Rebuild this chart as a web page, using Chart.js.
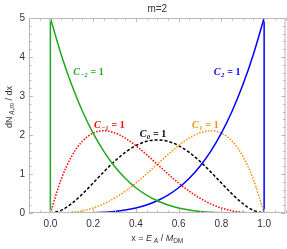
<!DOCTYPE html>
<html><head><meta charset="utf-8">
<script src="https://cdn.jsdelivr.net/npm/chart.js@4/dist/chart.umd.min.js"></script>
<style>html,body{margin:0;padding:0;background:#fff}#w{width:287px;height:249px}</style>
</head><body><div id="w"><canvas id="c" width="287" height="249"></canvas></div>
<script>
const xs = [0,0.05,0.1,0.15,0.2,0.25,0.3,0.35,0.4,0.45,0.5,0.55,0.6,0.65,0.7,0.75,0.8,0.85,0.9,0.95,1];
const cMinus2 = [5.000,4.073,3.281,2.610,2.048,1.582,1.201,0.893,0.648,0.458,0.313,0.205,0.128,0.075,0.041,0.020,0.008,0.003,0.0005,0.0000,0];
const cPlus2  = [0,0.0000,0.0005,0.003,0.008,0.020,0.041,0.075,0.128,0.205,0.313,0.458,0.648,0.893,1.201,1.582,2.048,2.610,3.281,4.073,5.000];
const cMinus1 = [0,0.857,1.458,1.842,2.048,2.109,2.058,1.922,1.728,1.497,1.250,1.002,0.768,0.557,0.378,0.234,0.128,0.057,0.018,0.002,0];
const cPlus1  = [0,0.002,0.018,0.057,0.128,0.234,0.378,0.557,0.768,1.002,1.250,1.497,1.728,1.922,2.058,2.109,2.048,1.842,1.458,0.857,0];
const cZero   = [0,0.068,0.243,0.488,0.768,1.055,1.323,1.553,1.728,1.838,1.875,1.838,1.728,1.553,1.323,1.055,0.768,0.488,0.243,0.068,0];
const edgeMinus2 = {x:[0,0], y:[0,5]};
const edgePlus2 = {x:[1,1], y:[0,5]};
const xTicks = [0,0.2,0.4,0.6,0.8,1.0];
const xTickLabels = ['0.0','0.2','0.4','0.6','0.8','1.0'];
const yTicks = [0,1,2,3,4,5];
const yTickLabels = ['0','1','2','3','4','5'];
const title = 'm=2';
const labels = [
  {c:'#1fa81f', x:0.178, y:3.63, sub:'\u22122'},
  {c:'#0000ff', x:0.827, y:3.63, sub:'2'},
  {c:'#ff0000', x:0.276, y:2.26, sub:'\u22121'},
  {c:'#000000', x:0.48,  y:2.05, sub:'0'},
  {c:'#ff8c00', x:0.725, y:2.26, sub:'1'}
];

const pts = (ys) => xs.map((x,i)=>({x:x,y:ys[i]}));
const edge = (e) => e.x.map((x,i)=>({x:x,y:e.y[i]}));
const base = {pointRadius:0, borderWidth:1.5, fill:false, cubicInterpolationMode:'monotone'};
const SANS = '"Liberation Sans", Arial, sans-serif';

const deco = {
  id:'deco',
  afterDraw(chart){
    const ctx = chart.ctx, a = chart.chartArea;
    const sx = chart.scales.x, sy = chart.scales.y;
    ctx.save();
    ctx.strokeStyle = '#b8b8b8'; ctx.lineWidth = 1;
    ctx.strokeRect(a.left+0.5, a.top+0.5, a.right-a.left-1, a.bottom-a.top-1);
    ctx.beginPath();
    for (let k=-2;k<=22;k++){
      const v = k*0.05;
      const p = Math.round(sx.getPixelForValue(v))+0.5;
      const major = (k%4===0);
      const L = major?4:2.5;
      ctx.moveTo(p,a.bottom); ctx.lineTo(p,a.bottom-L);
      ctx.moveTo(p,a.top); ctx.lineTo(p,a.top+L);
    }
    for (let k=0;k<=25;k++){
      const v = k*0.2;
      const p = Math.round(sy.getPixelForValue(v))+0.5;
      const major = (k%5===0);
      const L = major?4:2.5;
      ctx.moveTo(a.left,p); ctx.lineTo(a.left+L,p);
      ctx.moveTo(a.right,p); ctx.lineTo(a.right-L,p);
    }
    ctx.stroke();
    // title
    ctx.fillStyle = '#333'; ctx.font = '10px ' + SANS;
    ctx.textAlign='center'; ctx.textBaseline='middle';
    ctx.fillText(title, (a.left+a.right)/2, 9);
    // curve labels
    labels.forEach(l=>{
      const px = sx.getPixelForValue(l.x), py = sy.getPixelForValue(l.y);
      const fMain = 'italic bold 10px "Liberation Serif", "DejaVu Serif", serif';
      const fSub = 'italic bold 6.5px "Liberation Serif", "DejaVu Serif", serif';
      const fEq = 'bold 10px "Liberation Serif", "DejaVu Serif", serif';
      ctx.font=fMain; const w1 = ctx.measureText('C').width;
      ctx.font=fSub; const w2 = ctx.measureText(l.sub).width;
      ctx.font=fEq; const w3 = ctx.measureText(' = 1').width;
      let x0 = px - (w1+w2+w3+1)/2;
      ctx.fillStyle = l.c; ctx.textAlign='left'; ctx.textBaseline='alphabetic';
      ctx.font=fMain; ctx.fillText('C', x0, py+3.5); x0+=w1+0.5;
      ctx.font=fSub; ctx.fillText(l.sub, x0, py+5.5); x0+=w2+0.5;
      ctx.font=fEq; ctx.fillText(' = 1', x0, py+3.5);
    });
    // axis titles
    const fs='9px '+SANS, fi='italic 9px '+SANS, fss='6.5px '+SANS, fsi='italic 6.5px '+SANS;
    function drawParts(parts, cx, cy){
      let tw=0; parts.forEach(p=>{ctx.font=p[1]; tw+=ctx.measureText(p[0]).width;});
      let x0 = cx - tw/2;
      ctx.textAlign='left'; ctx.textBaseline='alphabetic';
      parts.forEach(p=>{ctx.font=p[1]; ctx.fillText(p[0], x0, cy+p[2]); x0+=ctx.measureText(p[0]).width;});
    }
    ctx.fillStyle='#333';
    const xparts = [['x = ',fs,0],['E',fi,0],[' A',fsi,2],[' / ',fs,0],['M',fi,0],['DM',fss,2]];
    drawParts(xparts, (a.left+a.right)/2, 241);
    ctx.save();
    ctx.translate(12, 107);
    ctx.rotate(-Math.PI/2);
    const yparts = [['dN',fs,0],[' A,m',fsi,2],[' / dx',fs,0]];
    drawParts(yparts, 0, 0);
    ctx.restore();
    ctx.restore();
  }
};

new Chart(document.getElementById('c'), {
  type:'line',
  data:{datasets:[
    Object.assign({}, base, {label:'C-2', data:pts(cMinus2), borderColor:'#1fa81f'}),
    Object.assign({}, base, {label:'C-2 edge', data:edge(edgeMinus2), borderColor:'#1fa81f', cubicInterpolationMode:'default', tension:0}),
    Object.assign({}, base, {label:'C2', data:pts(cPlus2), borderColor:'#0000ff'}),
    Object.assign({}, base, {label:'C2 edge', data:edge(edgePlus2), borderColor:'#0000ff', cubicInterpolationMode:'default', tension:0}),
    Object.assign({}, base, {label:'C-1', data:pts(cMinus1), borderColor:'#ff0000', borderDash:[1.5,1.5]}),
    Object.assign({}, base, {label:'C1', data:pts(cPlus1), borderColor:'#ff8c00', borderDash:[1.5,1.5]}),
    Object.assign({}, base, {label:'C0', data:pts(cZero), borderColor:'#000000', borderDash:[3,2]})
  ]},
  options:{
    responsive:false, animation:false, devicePixelRatio:1,
    layout:{padding:{top:18,right:1.5,left:0,bottom:0}},
    plugins:{legend:{display:false}, tooltip:{enabled:false}, title:{display:false}},
    scales:{
      x:{type:'linear', min:-0.1, max:1.1,
        afterBuildTicks:s=>{s.ticks = xTicks.map(v=>({value:v}));},
        afterFit:s=>{s.height=36;},
        grid:{display:false, drawTicks:false}, border:{display:false},
        ticks:{autoSkip:false, maxRotation:0, padding:5, color:'#333', font:{family:SANS, size:10},
          callback:(v)=>{const i=xTicks.findIndex(t=>Math.abs(t-v)<1e-9); return i>=0?xTickLabels[i]:'';}}},
      y:{type:'linear', min:0, max:5,
        afterBuildTicks:s=>{s.ticks = yTicks.map(v=>({value:v}));},
        afterFit:s=>{s.width=29;},
        grid:{display:false, drawTicks:false}, border:{display:false},
        ticks:{autoSkip:false, padding:4, color:'#333', font:{family:SANS, size:10},
          callback:(v)=>{const i=yTicks.findIndex(t=>Math.abs(t-v)<1e-9); return i>=0?yTickLabels[i]:'';}}}
    }
  },
  plugins:[deco]
});
</script></body></html>
